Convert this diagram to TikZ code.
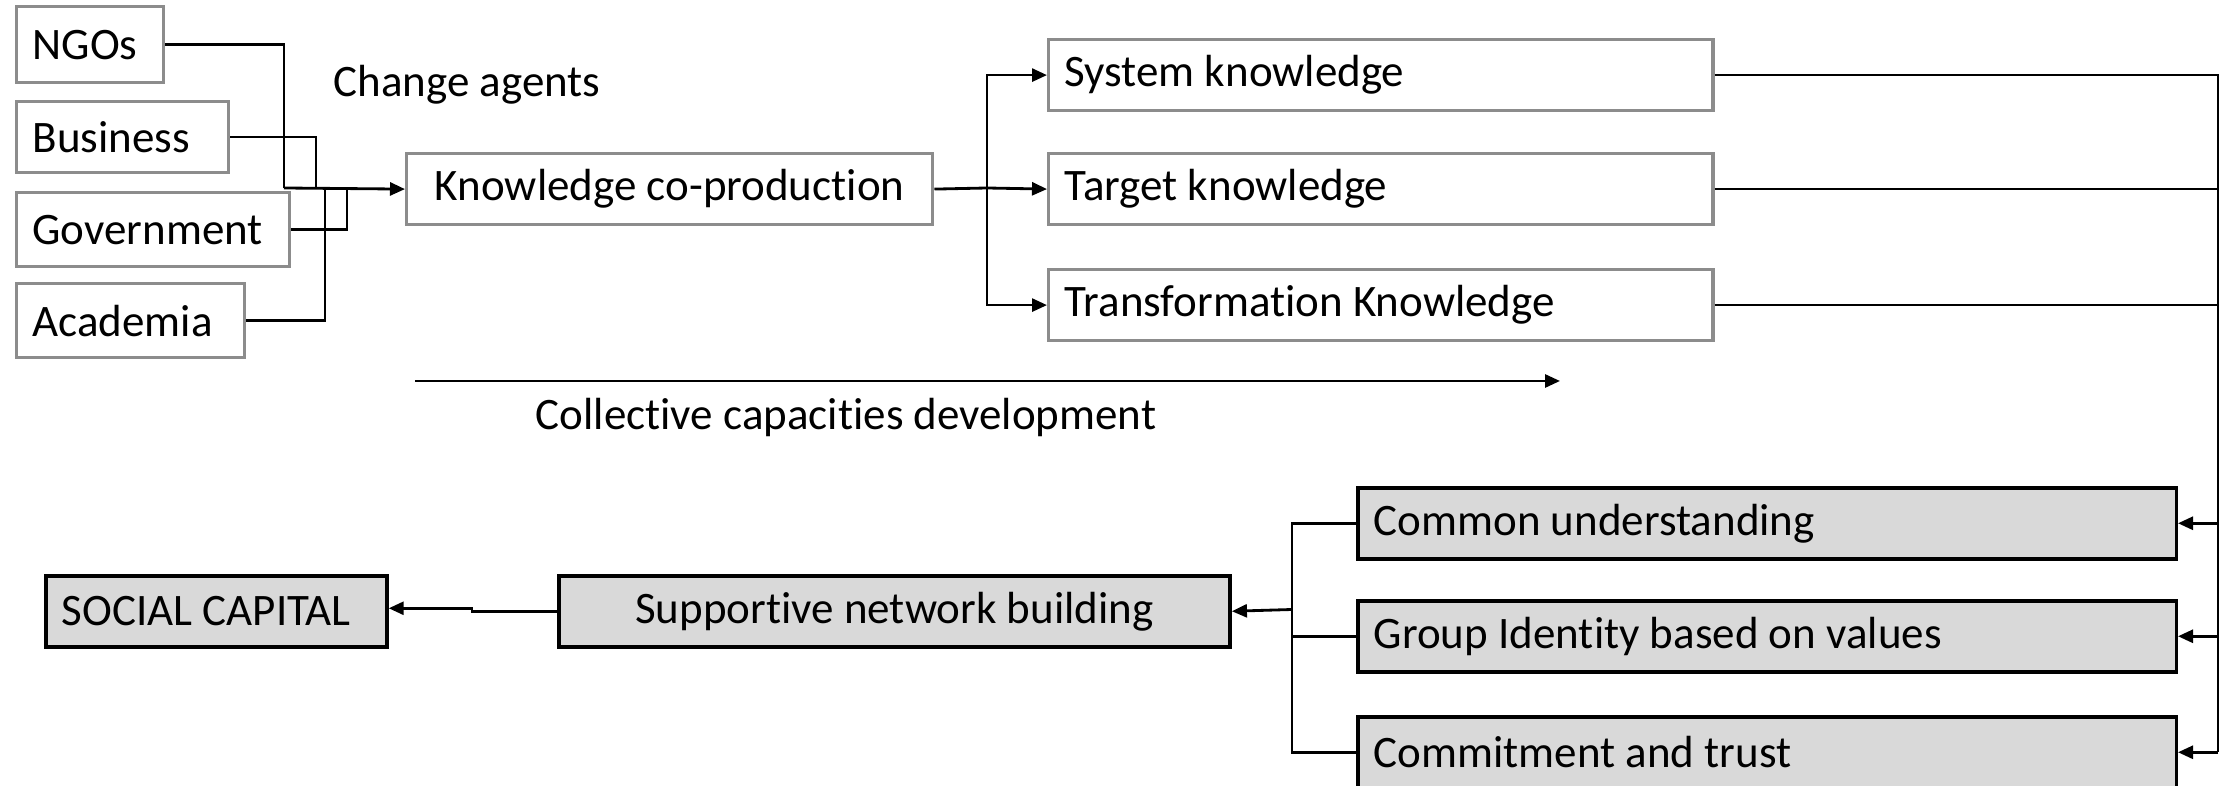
\documentclass[tikz,border=0pt]{standalone}
\usepackage{fontspec}
\setmainfont[Ligatures=NoCommon]{Carlito}
\usepackage{xcolor}
\usetikzlibrary{arrows.meta}
\definecolor{boxgray}{HTML}{8C8C8C}
\definecolor{capfill}{HTML}{D9D9D9}

\begin{document}
\begin{tikzpicture}[x=0.01cm, y=-0.01cm, font=\fontsize{12.8}{15}\selectfont,
        box/.style={draw=boxgray, line width=0.9pt, anchor=north west, align=flush left,
            inner xsep=0.16cm, inner ysep=0pt, minimum height=0.71cm},
        capbox/.style={box, draw=black, fill=capfill, line width=1pt},
        link/.style={line width=0.8pt},
        arr/.style={link, -{Triangle[length=0.15cm, width=0.13cm]}}]
        \useasboundingbox (0,0) rectangle (2221,786);

        % Change agents
        \draw (15,5) node[box, minimum height=0.76cm, text width=1.15cm] (ngo) {NGOs};
        \draw (15,100) node[box, text width=1.80cm] (bus) {Business};
        \draw (15,191) node[box, minimum height=0.74cm, text width=2.41cm] (gov) {Government};
        \draw (15,282) node[box, minimum height=0.74cm, text width=1.96cm] (aca) {Academia};
        \draw (467,85) node (agents) {Change agents};

        % Knowledge co-production
        \draw (405,152) node[box, align=flush center, text width=4.94cm] (kcp) {Knowledge co-production};
        \coordinate (merge) at (284,188);
        \draw[link] (ngo.east) -| (merge);
        \draw[link] (bus.east) -| ([xshift=0.32cm]merge);
        \draw[link] (gov.east) -| ([xshift=0.63cm]merge);
        \draw[link] (aca.east) -| ([xshift=0.41cm]merge);
        \draw[arr] (merge) -- (kcp.west);

        % Types of knowledge
        \draw (1047,38) node[box, text width=6.32cm] (sys) {System knowledge};
        \draw (1047,152) node[box, text width=6.32cm] (tar) {Target knowledge};
        \draw (1047,268) node[box, text width=6.32cm] (tra) {Transformation Knowledge};
        \coordinate (split) at (987,188);
        \draw[link] (kcp.east) -- (split);
        \draw[arr] (split) |- (sys.west);
        \draw[arr] (split) -- (tar.west);
        \draw[arr] (split) |- (tra.west);

        % Collective capacities
        \coordinate (cstart) at (415,381);
        \coordinate (cend) at (1560,381);
        \draw[arr] (cstart) -- (cend);
        \draw (846,418) node (collective) {Collective capacities development};

        % Outcomes
        \draw (1356,486) node[capbox, text width=7.86cm] (com) {Common understanding};
        \draw (1356,599) node[capbox, text width=7.86cm] (grp) {Group Identity based on values};
        \draw (1356,715) node[capbox, text width=7.86cm] (cmt) {Commitment and trust};
        \coordinate (rbus) at (2218,400);
        \draw[link] (sys.east) -| (cmt.east -| rbus);
        \draw[link] (tar.east) -- (tar.east -| rbus);
        \draw[link] (tra.east) -- (tra.east -| rbus);
        \draw[arr] (com.east -| rbus) -- (com.east);
        \draw[arr] (grp.east -| rbus) -- (grp.east);
        \draw[arr] (cmt.east -| rbus) -- (cmt.east);

        % Social capital
        \draw (557,574) node[capbox, align=flush center, text width=6.39cm] (sup) {Supportive network building};
        \draw (44,574) node[capbox, text width=3.09cm] (soc) {SOCIAL CAPITAL};
        \coordinate (lbus) at (1292,609.5);
        \draw[link] (com.west) -| (cmt.west -| lbus) -- (cmt.west);
        \draw[link] (grp.west) -- (grp.west -| lbus);
        \draw[arr] (lbus) -- (sup.east);
        \draw[arr] (sup.west) -- ++(-85,0) |- ([yshift=0.03cm]soc.east);
\end{tikzpicture}
\end{document}
